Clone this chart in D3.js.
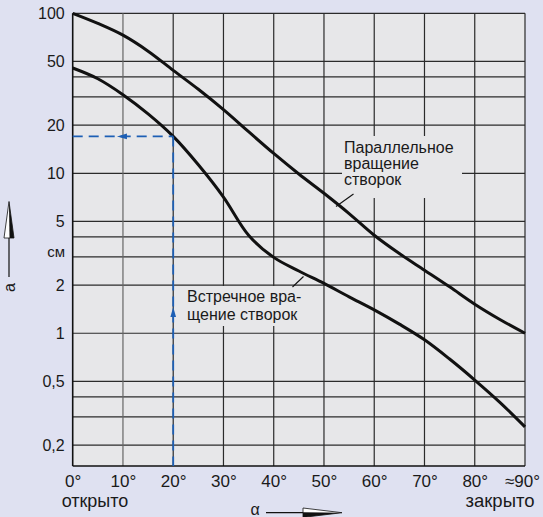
<!DOCTYPE html>
<html>
<head>
<meta charset="utf-8">
<script src="https://cdn.jsdelivr.net/npm/d3@7"></script>
<style>
  html, body { margin: 0; padding: 0; background: #dfe1f1; }
  svg { display: block; }
  text { font-family: "Liberation Sans", Arial, Helvetica, sans-serif; fill: #1a1a1a; }
</style>
</head>
<body>
<svg id="chart" width="543" height="517"></svg>
<script>
// Flap angle, degrees
const angles = [0, 5, 10, 15, 20, 25, 30, 35, 40, 45, 50, 55, 60, 65, 70, 75, 80, 85, 90];
// Opening a (cm), parallel rotation of the flaps
const parallelValues = [100, 86.5, 73, 58, 44, 33.5, 25, 18.2, 13.3, 9.9, 7.5, 5.6, 4.1, 3.15, 2.48, 1.95, 1.52, 1.22, 1.0];
// Opening a (cm), counter rotation of the flaps
const counterValues = [45.5, 39, 31, 23.5, 17, 11.3, 7.1, 4.1, 2.98, 2.45, 2.05, 1.69, 1.4, 1.14, 0.91, 0.69, 0.51, 0.37, 0.26];

const xTicks = [0, 10, 20, 30, 40, 50, 60, 70, 80];
const xGrid = [10, 20, 30, 40, 50, 60, 70, 80, 90];
const yTicks = [100, 50, 20, 10, 5, 2, 1, 0.5, 0.2];
const yGrid = [100, 50, 40, 30, 20, 10, 5, 4, 3, 2, 1, 0.5, 0.4, 0.3, 0.2];

// Reading example: 20° counter rotation gives ~17 cm
const exampleAngle = 20;
const exampleValue = 17;

const svg = d3.select("#chart");
const L = 72.7, R = 525, T = 13.3, B = 466;

const x = d3.scaleLinear().domain([0, 90]).range([L, R]);
const y = d3.scaleLog().domain([0.148, 100]).range([B, T]);

const fmt = v => String(v).replace(".", ",");

// plot background
svg.append("rect").attr("x", L).attr("y", T).attr("width", R - L).attr("height", B - T)
  .attr("fill", "#e7e7e9");

// grid
const grid = svg.append("g");
grid.selectAll("line.h").data(yGrid).join("line")
  .attr("x1", L).attr("x2", R)
  .attr("y1", d => y(d)).attr("y2", d => y(d))
  .attr("stroke", "#2b2b2b").attr("stroke-width", 1.2);
grid.selectAll("line.v").data(xGrid).join("line")
  .attr("y1", T).attr("y2", B)
  .attr("x1", d => x(d)).attr("x2", d => x(d))
  .attr("stroke", d => d === 10 ? "#666" : "#2b2b2b").attr("stroke-width", 1.2);

// clear space behind the curve labels
svg.append("rect").attr("x", 342).attr("y", 136).attr("width", 120).attr("height", 62).attr("fill", "#e7e7e9");
svg.append("rect").attr("x", 182).attr("y", 286).attr("width", 121).attr("height", 40).attr("fill", "#e7e7e9");

// frame axes lines
svg.append("line").attr("x1", L).attr("x2", L).attr("y1", T).attr("y2", B).attr("stroke", "#111").attr("stroke-width", 1.6);
svg.append("line").attr("x1", L).attr("x2", R).attr("y1", B).attr("y2", B).attr("stroke", "#111").attr("stroke-width", 1.6);

// axes labels via d3 axes
const yAxis = svg.append("g").attr("transform", `translate(${L},0)`)
  .call(d3.axisLeft(y).tickValues(yTicks).tickSize(0).tickPadding(8).tickFormat(fmt));
yAxis.select(".domain").remove();
yAxis.selectAll("text").attr("font-size", 16).attr("fill", "#1a1a1a")
  .attr("font-family", "'Liberation Sans', Arial, sans-serif");

const xAxis = svg.append("g").attr("transform", `translate(0,${B})`)
  .call(d3.axisBottom(x).tickValues(xTicks).tickSize(0).tickPadding(9).tickFormat(d => d + "°"));
xAxis.select(".domain").remove();
xAxis.selectAll("text").attr("font-size", 17).attr("fill", "#1a1a1a")
  .attr("font-family", "'Liberation Sans', Arial, sans-serif");

svg.append("text").attr("x", 540).attr("y", 487).attr("text-anchor", "end")
  .attr("font-size", 17).text("≈90°");
svg.append("text").attr("x", 95).attr("y", 507).attr("text-anchor", "middle")
  .attr("font-size", 18).text("открыто");
svg.append("text").attr("x", 500).attr("y", 507).attr("text-anchor", "middle")
  .attr("font-size", 18.5).text("закрыто");
svg.append("text").attr("x", 65).attr("y", 257).attr("text-anchor", "end")
  .attr("font-size", 15).text("см");

// curves
const line = d3.line().x((d, i) => x(angles[i])).y(d => y(d)).curve(d3.curveCatmullRom.alpha(0.5));
svg.append("path").attr("d", line(parallelValues)).attr("fill", "none")
  .attr("stroke", "#111").attr("stroke-width", 3);
svg.append("path").attr("d", line(counterValues)).attr("fill", "none")
  .attr("stroke", "#111").attr("stroke-width", 3);

// reading example (blue dashed)
const blue = "#1d5fb5";
const ex = x(exampleAngle), ey = y(exampleValue);
svg.append("line").attr("x1", L).attr("x2", ex).attr("y1", ey).attr("y2", ey)
  .attr("stroke", blue).attr("stroke-width", 1.8).attr("stroke-dasharray", "10,6");
svg.append("line").attr("x1", ex).attr("x2", ex).attr("y1", ey).attr("y2", B)
  .attr("stroke", blue).attr("stroke-width", 1.8).attr("stroke-dasharray", "10,6");
const ax = x(10);
svg.append("path").attr("d", `M${ax - 6},${ey} L${ax + 4},${ey - 2.8} L${ax + 4},${ey + 2.8} Z`).attr("fill", blue);
const ay = 313;
svg.append("path").attr("d", `M${ex},${ay - 6} L${ex - 2.8},${ay + 4} L${ex + 2.8},${ay + 4} Z`).attr("fill", blue);

// curve labels
const lab1 = svg.append("text").attr("font-size", 16);
["Параллельное", "вращение", "створок"].forEach((t, i) =>
  lab1.append("tspan").attr("x", 344).attr("y", 152.5 + i * 16.2).text(t));
svg.append("line").attr("x1", 353.5).attr("y1", 194).attr("x2", 336).attr("y2", 206.5)
  .attr("stroke", "#111").attr("stroke-width", 1.1);

const lab2 = svg.append("text").attr("font-size", 16);
["Встречное вра-", "щение створок"].forEach((t, i) =>
  lab2.append("tspan").attr("x", 187).attr("y", 301.5 + i * 18).text(t));
svg.append("line").attr("x1", 292.5).attr("y1", 287).attr("x2", 303.5).attr("y2", 276.5)
  .attr("stroke", "#111").attr("stroke-width", 1.1);

// axis name arrows
// vertical: a
svg.append("line").attr("x1", 9).attr("x2", 9).attr("y1", 236).attr("y2", 277).attr("stroke", "#111").attr("stroke-width", 1.2);
svg.append("path").attr("d", "M9,201.5 L4,238 L14,238 Z").attr("fill", "#fff").attr("stroke", "#111").attr("stroke-width", 0.8);
svg.append("path").attr("d", "M9,201.5 L9.5,238 L14,238 Z").attr("fill", "#111");
svg.append("text").attr("transform", "translate(14.5,287.5) rotate(-90)").attr("text-anchor", "middle")
  .attr("font-size", 16).text("a");

// horizontal: α
svg.append("text").attr("x", 255).attr("y", 514.5).attr("text-anchor", "middle").attr("font-size", 16).text("α");
svg.append("line").attr("x1", 266).attr("x2", 305).attr("y1", 512.7).attr("y2", 512.7).attr("stroke", "#111").attr("stroke-width", 1.2);
svg.append("path").attr("d", "M342,512.7 L303,508 L303,517.4 Z").attr("fill", "#fff").attr("stroke", "#111").attr("stroke-width", 0.8);
svg.append("path").attr("d", "M342,512.7 L303,512.2 L303,517.4 Z").attr("fill", "#111");
</script>
</body>
</html>
